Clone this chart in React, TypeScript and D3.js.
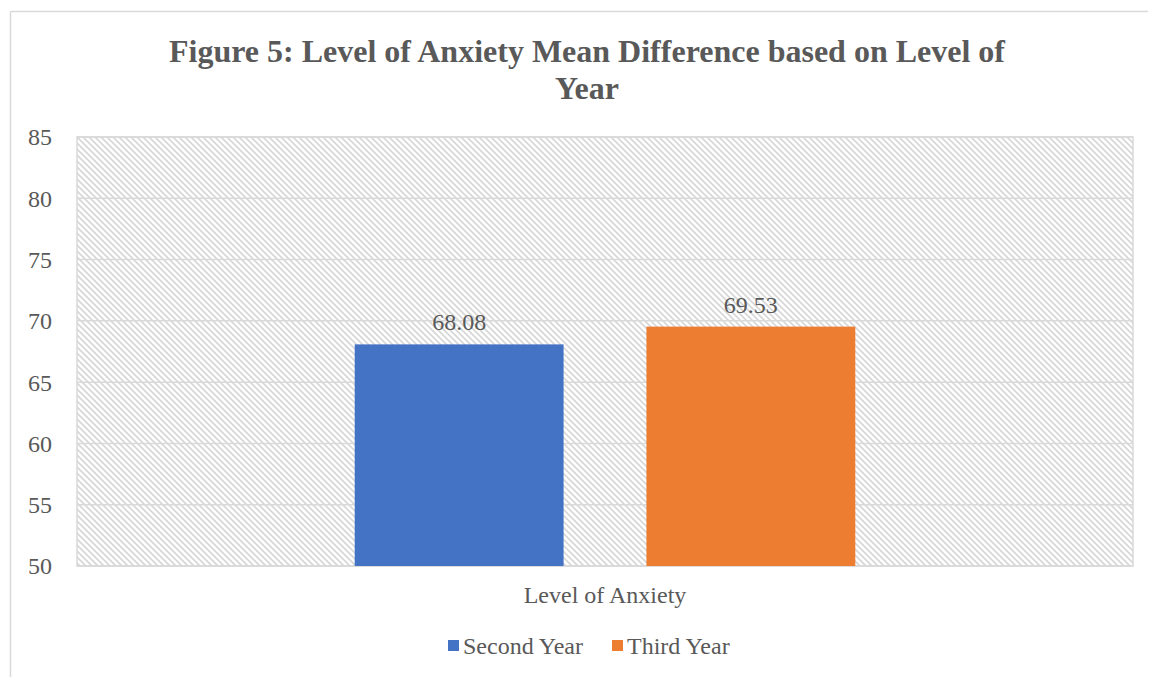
import React from "react"
import * as d3 from "d3"

const TITLE_LINES = ["Figure 5: Level of Anxiety Mean Difference based on Level of", "Year"]
const CATEGORIES = ["Level of Anxiety"]
const SERIES = ["Second Year", "Third Year"]
const VALUES = [68.08, 69.53]
const COLORS = ["#4472c4", "#ed7d31"]
const Y_TICKS = [50, 55, 60, 65, 70, 75, 80, 85]

const W = 1149
const H = 677
const margin = { top: 137, right: 16, bottom: 111, left: 77 }
const FONT = "'Liberation Serif', 'Times New Roman', serif"
const TEXT = "#595959"
const GRID = "#d9d9d9"

export default function App() {
  const innerW = W - margin.left - margin.right
  const innerH = H - margin.top - margin.bottom

  const y = d3.scaleLinear().domain([50, 85]).range([innerH, 0])
  const x0 = d3.scaleBand().domain(CATEGORIES).range([0, innerW]).padding(0)
  const x1 = d3
    .scaleBand()
    .domain(SERIES)
    .range([0, x0.bandwidth()])
    .paddingInner(0.284)
    .paddingOuter(0.952)

  return (
    <div style={{ position: "fixed", left: 0, top: 0 }}>
      <svg width={W} height={H} style={{ display: "block", background: "#fff" }}>
        <defs>
          <pattern id="hatch" width={6} height={6} patternUnits="userSpaceOnUse">
            <path d="M-1,-1 L7,7 M-4,2 L2,8 M2,-4 L8,2" stroke="#d6d6d6" strokeWidth={1.6} />
          </pattern>
        </defs>

        {/* outer chart border (top + left visible) */}
        <line x1={10.5} x2={1148} y1={11.5} y2={11.5} stroke={GRID} strokeWidth={1.5} />
        <line x1={10.5} x2={10.5} y1={11.5} y2={H} stroke={GRID} strokeWidth={1.5} />

        {TITLE_LINES.map((t, i) => (
          <text
            key={i}
            x={587}
            y={62 + i * 37}
            textAnchor="middle"
            fontFamily={FONT}
            fontWeight="bold"
            fontSize={32}
            fill={TEXT}
          >
            {t}
          </text>
        ))}

        <g transform={`translate(${margin.left},${margin.top})`}>
          <rect width={innerW} height={innerH} fill="url(#hatch)" stroke={GRID} strokeWidth={1.5} />
          {Y_TICKS.map((t) => (
            <g key={t}>
              <line x1={0} x2={innerW} y1={y(t)} y2={y(t)} stroke={GRID} strokeWidth={1.5} />
              <text
                x={-25}
                y={y(t)}
                dy="0.35em"
                textAnchor="end"
                fontFamily={FONT}
                fontSize={24}
                fill={TEXT}
              >
                {t}
              </text>
            </g>
          ))}

          {CATEGORIES.map((c) => (
            <g key={c} transform={`translate(${x0(c)},0)`}>
              {SERIES.map((s, i) => (
                <g key={s}>
                  <rect
                    x={x1(s)}
                    y={y(VALUES[i])}
                    width={x1.bandwidth()}
                    height={innerH - y(VALUES[i])}
                    fill={COLORS[i]}
                  />
                  <text
                    x={(x1(s) ?? 0) + x1.bandwidth() / 2}
                    y={y(VALUES[i]) - 14}
                    textAnchor="middle"
                    fontFamily={FONT}
                    fontSize={24}
                    fill={TEXT}
                  >
                    {VALUES[i].toFixed(2)}
                  </text>
                </g>
              ))}
              <text
                x={x0.bandwidth() / 2}
                y={innerH + 37}
                textAnchor="middle"
                fontFamily={FONT}
                fontSize={24}
                fill={TEXT}
              >
                {c}
              </text>
            </g>
          ))}
        </g>

        {/* legend */}
        <g transform="translate(0,646)">
          {SERIES.map((s, i) => {
            const lx = [448, 612][i]
            return (
              <g key={s} transform={`translate(${lx},0)`}>
                <rect x={0} y={-6} width={11} height={11} fill={COLORS[i]} />
                <text x={15} y={0} dy="0.35em" fontFamily={FONT} fontSize={24} fill={TEXT}>
                  {s}
                </text>
              </g>
            )
          })}
        </g>
      </svg>
    </div>
  )
}
